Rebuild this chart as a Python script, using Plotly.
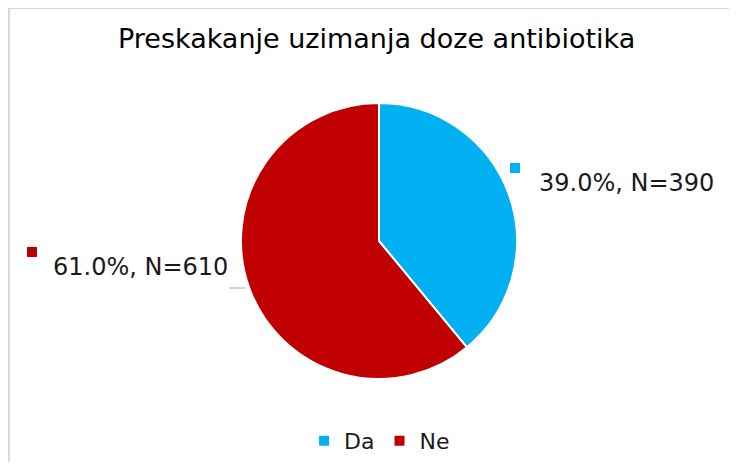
import plotly.graph_objects as go

title = "Preskakanje uzimanja doze antibiotika"
categories = ["Da", "Ne"]
counts = [390, 610]
colors = ["#00B0F0", "#C00000"]

# the page body has an 8px margin; figure fills the rest of the 737x470 window
OFF = 8
W, H = 737 - 2 * OFF, 470 - 2 * OFF
total = sum(counts)
pct = [c / total * 100 for c in counts]

def px(x):
    return (x - OFF) / W

def py(y):
    return 1 - (y - OFF) / H

fig = go.Figure()
fig.add_trace(go.Pie(
    labels=categories,
    values=counts,
    marker=dict(colors=colors, line=dict(color="white", width=2)),
    sort=False,
    direction="clockwise",
    rotation=0,
    textinfo="none",
    hoverinfo="label+value+percent",
    domain=dict(x=[px(241), px(517)], y=[py(379), py(103)]),
))

label_pos = [(537, 183, 510, 163), (51, 267, 27, 247)]
annotations = [dict(
    text=title, x=px(376.5), y=py(39), xref="paper", yref="paper",
    xanchor="center", yanchor="middle", showarrow=False,
    font=dict(family="DejaVu Sans", size=27, color="#000000"))]
shapes = [
    dict(type="line", xref="paper", yref="paper", x0=1 / W, x1=1 / W, y0=0, y1=1,
         line=dict(color="#D9D9D9", width=2)),
    dict(type="line", xref="paper", yref="paper", x0=0, x1=1, y0=1, y1=1,
         line=dict(color="#D9D9D9", width=2)),
]
for i, (tx, ty, sx, sy) in enumerate(label_pos):
    annotations.append(dict(
        text=f"{pct[i]:.1f}%, N={counts[i]}", x=px(tx), y=py(ty),
        xref="paper", yref="paper", xanchor="left", yanchor="middle",
        showarrow=False, font=dict(family="DejaVu Sans", size=24, color="#1a1a1a")))
    shapes.append(dict(type="rect", xref="paper", yref="paper",
                       x0=px(sx), x1=px(sx + 10), y0=py(sy + 10), y1=py(sy),
                       fillcolor=colors[i], line=dict(width=0)))
shapes.append(dict(type="line", xref="paper", yref="paper",
                   x0=px(229), x1=px(245), y0=py(288), y1=py(288),
                   line=dict(color="#A6A6A6", width=1)))

fig.update_layout(
    width=W, height=H,
    margin=dict(l=0, r=0, t=0, b=0),
    paper_bgcolor="white",
    plot_bgcolor="white",
    showlegend=True,
    legend=dict(orientation="h", x=px(379.6), xanchor="center", y=py(441), yanchor="middle",
                font=dict(family="DejaVu Sans", size=22, color="#1a1a1a"),
                itemwidth=30, tracegroupgap=0),
    annotations=annotations,
    shapes=shapes,
)

fig.write_html("out.html")
